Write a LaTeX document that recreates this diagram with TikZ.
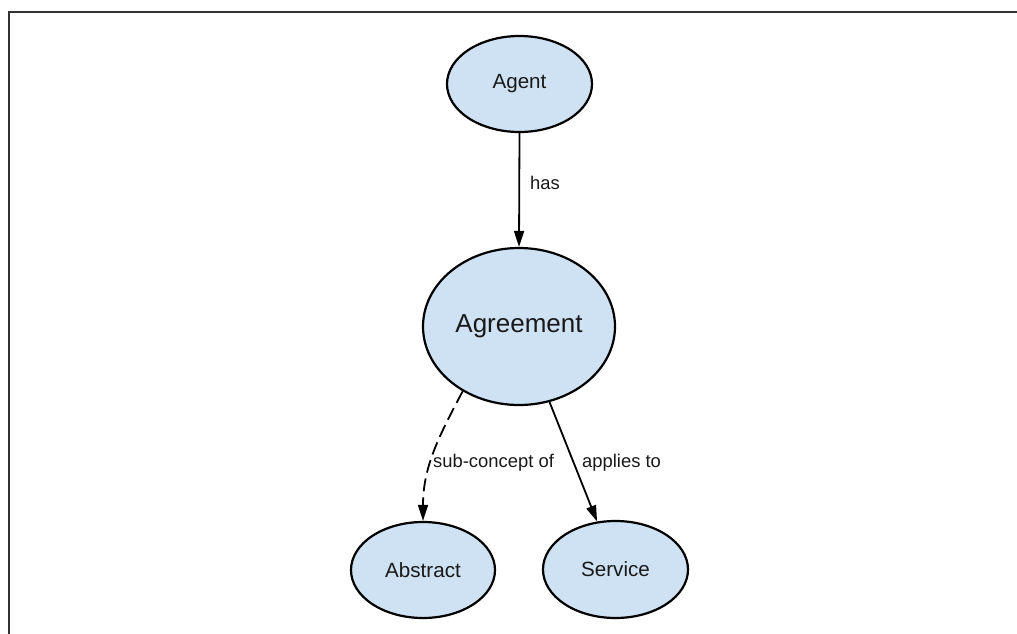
\documentclass[tikz,border=0pt]{standalone}
\usepackage{fontspec}
\setmainfont{Liberation Sans}
\usetikzlibrary{arrows.meta,shapes.geometric}
\definecolor{nodefill}{HTML}{CFE2F3}
\definecolor{framegray}{HTML}{333333}
\tikzset{
  concept/.style={ellipse, draw=black, line width=2.2pt, fill=nodefill, inner sep=0pt,
    text=black!90, font=\fontsize{20.6}{24}\selectfont},
  rel/.style={line width=1.8pt, -{Triangle[length=16pt,width=10pt]}},
  rellabel/.style={anchor=west, inner sep=0pt, text=black!90, font=\fontsize{18.4}{22}\selectfont},
}
\begin{document}
\begin{tikzpicture}[x=1pt,y=-1pt]
\useasboundingbox (0,0) rectangle (1017,634);
\fill[white] (0,0) rectangle (1017,634);
\draw[framegray, line width=2pt] (9,634) -- (9,12) -- (1017,12);

\node[concept, minimum width=145pt, minimum height=96pt] (agent) at (519.5,84) {Agent};
\node[concept, minimum width=192pt, minimum height=157pt, font=\fontsize{26}{30}\selectfont] (agr) at (519,326.5) {Agreement};
\node[concept, minimum width=144pt, minimum height=96pt] (abs) at (423,570) {Abstract};
\node[concept, minimum width=145pt, minimum height=97pt] (svc) at (615.5,569.5) {Service};

\draw[rel] (agent.south) -- (agr.north);
\draw[rel, dash pattern=on 13pt off 6pt] (agr.229) to[out=242, in=90] (abs.north);
\draw[rel] (agr.292) -- (svc.111);

\node[rellabel] (lhas) at (530,183) {has};
\node[rellabel] (lsub) at (433,463) {sub-concept of};
\node[rellabel] (lapp) at (582,463) {applies to};
\end{tikzpicture}
\end{document}
